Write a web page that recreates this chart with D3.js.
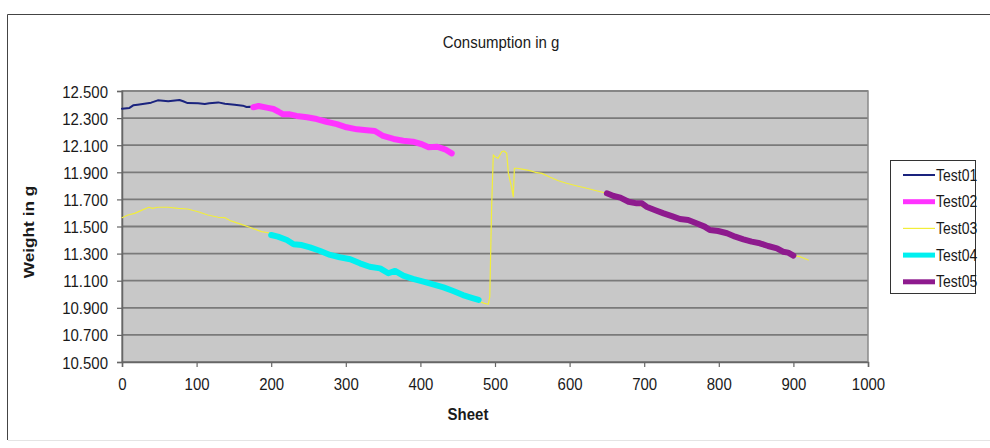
<!DOCTYPE html>
<html><head><meta charset="utf-8">
<script src="https://cdn.jsdelivr.net/npm/d3@7"></script>
<style>body{margin:0;background:#fff}text{font-family:"Liberation Sans",Arial,sans-serif;fill:#1a1a1a}</style>
</head><body><svg id="c" width="990" height="448"></svg>
<script>
const title = "Consumption in g";
const xTitle = "Sheet";
const yTitle = "Weight in g";
const xTicks = [0,100,200,300,400,500,600,700,800,900,1000];
const yTicks = [10.5,10.7,10.9,11.1,11.3,11.5,11.7,11.9,12.1,12.3,12.5];
const seriesNames = ["Test01","Test02","Test03","Test04","Test05"];
const seriesColors = ["#1a237e","#ff33ff","#f2ee3a","#00f0f0","#8e1a8e"];
const seriesWidths = [2,6,1.2,6,6];

const test01 = [[0,12.369],[10,12.375],[15,12.394],[21,12.399],[30,12.406],[39,12.414],[48,12.431],[62,12.424],[77,12.434],[82,12.424],[88,12.411],[102,12.409],[111,12.404],[117,12.409],[129,12.416],[138,12.406],[151,12.399],[162,12.392],[167,12.382],[171,12.384],[176,12.380]];
const test02 = [[176,12.380],[183,12.389],[194,12.377],[203,12.367],[210,12.347],[216,12.328],[225,12.328],[234,12.316],[248,12.306],[261,12.293],[274,12.273],[288,12.256],[301,12.232],[315,12.217],[328,12.210],[339,12.205],[350,12.168],[364,12.146],[377,12.133],[390,12.126],[402,12.107],[411,12.085],[422,12.089],[433,12.070],[442,12.040]];
const test03 = [[0,11.565],[8,11.585],[17,11.597],[26,11.619],[36,11.642],[41,11.634],[48,11.642],[62,11.642],[75,11.634],[88,11.629],[102,11.609],[115,11.585],[129,11.568],[138,11.565],[146,11.541],[160,11.516],[173,11.491],[187,11.462],[196,11.454],[210,11.425],[240,11.365],[280,11.290],[320,11.228],[360,11.160],[400,11.095],[440,11.030],[470,10.972],[480,10.945],[486,10.933],[491,10.926],[493,10.982],[495.5,11.646],[497.7,12.028],[500,12.015],[504,12.003],[509,12.052],[512,12.057],[515.7,12.040],[518,11.892],[520,11.843],[522,11.794],[524.5,11.720],[526,11.930],[529,11.930],[538,11.922],[547,11.912],[556,11.897],[563,11.892],[574,11.863],[585,11.838],[596,11.819],[610,11.799],[623,11.782],[636,11.764],[647,11.749],[680,11.683],[720,11.600],[760,11.545],[800,11.465],[840,11.395],[880,11.330],[900,11.285],[909,11.277],[920,11.253]];
const test04 = [[200,11.437],[209,11.425],[221,11.400],[230,11.369],[241,11.363],[252,11.346],[265,11.321],[279,11.290],[292,11.273],[306,11.258],[319,11.228],[332,11.203],[346,11.191],[357,11.155],[366,11.172],[377,11.137],[390,11.113],[404,11.093],[417,11.073],[431,11.051],[444,11.024],[457,10.994],[471,10.970],[478,10.958]];
const test05 = [[650,11.745],[659,11.725],[668,11.713],[679,11.683],[690,11.671],[697,11.671],[703,11.646],[714,11.622],[726,11.597],[737,11.577],[748,11.555],[759,11.548],[770,11.524],[781,11.499],[788,11.474],[799,11.467],[811,11.450],[822,11.425],[833,11.405],[844,11.388],[855,11.376],[866,11.356],[878,11.339],[886,11.314],[893,11.307],[900,11.285]];
const seriesData = [test01,test02,test03,test04,test05];

const svg = d3.select("#c");
const L=122, T=91, R=868, B=362;
const x = d3.scaleLinear().domain([0,1000]).range([L,R]);
const y = d3.scaleLinear().domain([10.5,12.5]).range([B,T]);
const sy = 1.15;

svg.append("line").attr("x1",7.5).attr("x2",990).attr("y1",14.5).attr("y2",14.5).attr("stroke","#444");
svg.append("line").attr("x1",7.5).attr("x2",7.5).attr("y1",14.5).attr("y2",440).attr("stroke","#444");
svg.append("line").attr("x1",8).attr("x2",990).attr("y1",440.5).attr("y2",440.5).attr("stroke","#e4e4e4");

svg.append("rect").attr("x",L).attr("y",T).attr("width",R-L).attr("height",B-T).attr("fill","#c8c8c8");
svg.append("g").selectAll("line").data(yTicks).join("line")
  .attr("x1",L).attr("x2",R).attr("y1",d=>y(d)).attr("y2",d=>y(d))
  .attr("stroke","#7a7a7a").attr("stroke-width",1.8);
svg.append("rect").attr("x",L).attr("y",T).attr("width",R-L).attr("height",B-T).attr("fill","none").attr("stroke","#8a8a8a").attr("stroke-width",1.5);

const ax = svg.append("g").attr("transform",`translate(0,${B})`)
  .call(d3.axisBottom(x).tickValues(xTicks).tickSize(5).tickFormat(d3.format("d")));
const ay = svg.append("g").attr("transform",`translate(${L},0)`)
  .call(d3.axisLeft(y).tickValues(yTicks).tickSize(5).tickFormat(d3.format(".3f")));
[ax,ay].forEach(g=>{
  g.select(".domain").attr("stroke","#666").attr("stroke-width",1.5);
  g.selectAll(".tick line").attr("stroke","#666").attr("stroke-width",1.2);
  g.selectAll(".tick text").attr("font-size",15).attr("fill","#1a1a1a")
   .attr("font-family","Liberation Sans, Arial, sans-serif");
});
ax.selectAll(".tick text").attr("y",0).attr("dy",0).attr("transform",`translate(0,28) scale(1,${sy})`);
ay.selectAll(".tick text").attr("x",0).attr("dy",0).attr("transform",`translate(-14,6) scale(1,${sy})`);

const line = d3.line().x(d=>x(d[0])).y(d=>y(d[1]));
seriesData.forEach((d,i)=>{
  svg.append("path").datum(d).attr("d",line).attr("fill","none")
    .attr("stroke",seriesColors[i]).attr("stroke-width",seriesWidths[i])
    .attr("stroke-linejoin","round").attr("stroke-linecap","round");
});

svg.append("text").attr("transform",`translate(501,48) scale(1,${sy})`).attr("text-anchor","middle").attr("font-size",15).text(title);
svg.append("text").attr("transform",`translate(468,420) scale(1,${sy})`).attr("text-anchor","middle").attr("font-size",15).attr("font-weight","bold").text(xTitle);
svg.append("text").attr("transform",`translate(34,232) rotate(-90) scale(${sy},1)`).attr("text-anchor","middle").attr("font-size",15).attr("font-weight","bold").text(yTitle);

const lg = svg.append("g");
lg.append("rect").attr("x",890.5).attr("y",160.5).attr("width",85).attr("height",133).attr("fill","#fff").attr("stroke","#333");
seriesNames.forEach((n,i)=>{
  const yy = 175 + i*26.7;
  lg.append("line").attr("x1",903).attr("x2",935).attr("y1",yy).attr("y2",yy)
    .attr("stroke",seriesColors[i]).attr("stroke-width",Math.min(seriesWidths[i],5));
  lg.append("text").attr("transform",`translate(936,${yy+5.5}) scale(1,${sy})`).attr("font-size",14).text(n);
});
</script></body></html>
